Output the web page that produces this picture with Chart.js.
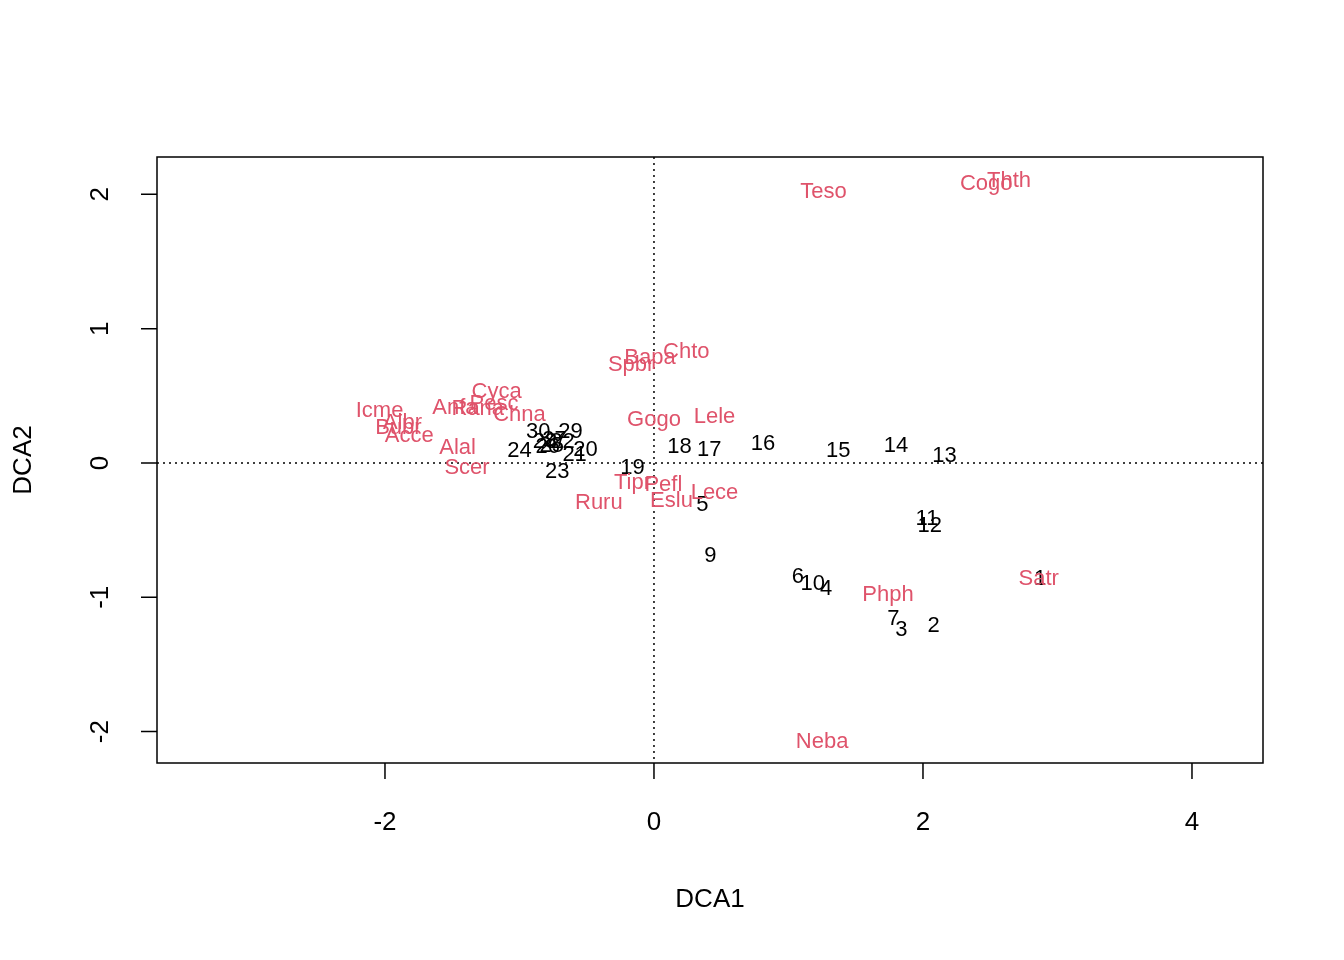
<!DOCTYPE html>
<html><head><meta charset="utf-8">
<script src="https://cdn.jsdelivr.net/npm/chart.js@4"></script>
<style>html,body{margin:0;background:#fff}#wrap{width:1344px;height:960px}</style>
</head><body><div id="wrap"><canvas id="c"></canvas></div>
<script>
// site scores (black numbers)
const siteLabels = ["1","2","3","4","5","6","7","9","10","11","12","13","14","15","16","17","18","19","20","21","22","23","24","25","26","27","28","29","30"];
const siteX = [2.87,2.08,1.84,1.28,0.36,1.07,1.78,0.42,1.18,2.03,2.05,2.16,1.80,1.37,0.81,0.41,0.19,-0.16,-0.51,-0.59,-0.68,-0.72,-1.00,-0.76,-0.79,-0.74,-0.81,-0.62,-0.86];
const siteY = [-0.86,-1.21,-1.24,-0.94,-0.31,-0.85,-1.16,-0.69,-0.90,-0.42,-0.47,0.05,0.13,0.09,0.14,0.10,0.12,-0.04,0.10,0.06,0.16,-0.07,0.09,0.13,0.12,0.17,0.16,0.23,0.23];
// species scores (red names)
const specLabels = ["Teso","Cogo","Thth","Bapa","Spbr","Chto","Gogo","Lele","Icme","Cyca","Anfa","Rana","Pesc","Chna","Albr","Bubr","Acce","Alal","Scer","Tipr","Pefl","Eslu","Lece","Ruru","Phph","Satr","Neba"];
const specX = [1.26,2.47,2.64,-0.03,-0.17,0.24,0.00,0.45,-2.04,-1.17,-1.48,-1.31,-1.19,-1.00,-1.87,-1.90,-1.82,-1.46,-1.39,-0.16,0.07,0.13,0.45,-0.41,1.74,2.86,1.25];
const specY = [2.02,2.08,2.10,0.78,0.73,0.83,0.32,0.34,0.39,0.53,0.41,0.40,0.44,0.36,0.30,0.26,0.20,0.11,-0.04,-0.15,-0.16,-0.28,-0.22,-0.30,-0.98,-0.86,-2.08];
const xTicks = [-2,0,2,4];
const yTicks = [-2,-1,0,1,2];

const FONT = "Liberation Sans, Arial, sans-serif";
const RED = "#DF536B";

const textPlugin = {
  id: "textPlugin",
  afterDatasetsDraw(chart) {
    const ctx = chart.ctx, a = chart.chartArea;
    const xs = chart.scales.x, ys = chart.scales.y;
    ctx.save();
    // dotted zero lines
    ctx.strokeStyle = "#000"; ctx.lineWidth = 1.5; ctx.setLineDash([2, 4]);
    ctx.beginPath();
    ctx.moveTo(a.left, ys.getPixelForValue(0)); ctx.lineTo(a.right, ys.getPixelForValue(0));
    ctx.moveTo(xs.getPixelForValue(0), a.top); ctx.lineTo(xs.getPixelForValue(0), a.bottom);
    ctx.stroke();
    ctx.setLineDash([]);
    // labels
    ctx.textAlign = "center"; ctx.textBaseline = "middle";
    ctx.font = "22px " + FONT;
    chart.data.datasets.forEach(ds => {
      ctx.fillStyle = ds.textColor;
      ds.data.forEach(p => ctx.fillText(p.label, xs.getPixelForValue(p.x), ys.getPixelForValue(p.y)));
    });
    // box
    ctx.lineWidth = 1.5; ctx.strokeStyle = "#000";
    ctx.strokeRect(a.left, a.top, a.right - a.left, a.bottom - a.top);
    // ticks
    ctx.fillStyle = "#000"; ctx.font = "26px " + FONT;
    ctx.beginPath();
    xTicks.forEach(v => { const px = xs.getPixelForValue(v); ctx.moveTo(px, a.bottom); ctx.lineTo(px, a.bottom + 16); });
    yTicks.forEach(v => { const py = ys.getPixelForValue(v); ctx.moveTo(a.left, py); ctx.lineTo(a.left - 16, py); });
    ctx.stroke();
    xTicks.forEach(v => ctx.fillText(String(v), xs.getPixelForValue(v), a.bottom + 60));
    yTicks.forEach(v => {
      ctx.save(); ctx.translate(a.left - 56, ys.getPixelForValue(v)); ctx.rotate(-Math.PI / 2);
      ctx.fillText(String(v), 0, 0); ctx.restore();
    });
    ctx.fillText("DCA1", (a.left + a.right) / 2, a.bottom + 137);
    ctx.save(); ctx.translate(a.left - 133, (a.top + a.bottom) / 2); ctx.rotate(-Math.PI / 2);
    ctx.fillText("DCA2", 0, 0); ctx.restore();
    ctx.restore();
  }
};

new Chart(document.getElementById("c"), {
  type: "scatter",
  data: {
    datasets: [
      { label: "sites", textColor: "#000", pointRadius: 0,
        data: siteLabels.map((l, i) => ({ x: siteX[i], y: siteY[i], label: l })) },
      { label: "species", textColor: RED, pointRadius: 0,
        data: specLabels.map((l, i) => ({ x: specX[i], y: specY[i], label: l })) }
    ]
  },
  options: {
    responsive: true, maintainAspectRatio: false, animation: false,
    layout: { padding: { top: 157, right: 81, left: 0, bottom: 0 } },
    plugins: { legend: { display: false }, tooltip: { enabled: false } },
    scales: {
      x: { type: "linear", min: -3.695, max: 4.528, grid: { display: false }, border: { display: false },
           ticks: { display: false }, afterFit: s => { s.height = 197; } },
      y: { type: "linear", min: -2.234, max: 2.278, grid: { display: false }, border: { display: false },
           ticks: { display: false }, afterFit: s => { s.width = 157; } }
    }
  },
  plugins: [textPlugin]
});
</script></body></html>
